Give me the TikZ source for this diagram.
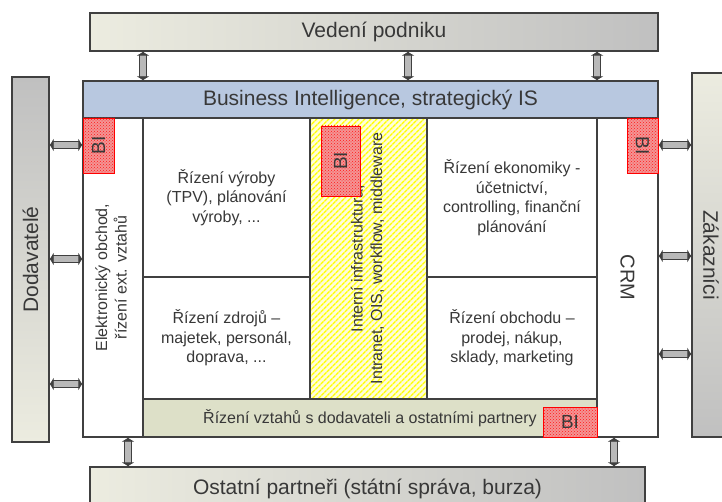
\documentclass[tikz,border=0pt]{standalone}
\usepackage{fontspec}
\setmainfont{Liberation Sans}
\usepackage{graphicx}
\usetikzlibrary{arrows.meta, patterns, patterns.meta}
\definecolor{boxline}{HTML}{404040}
\definecolor{frameblue}{HTML}{B8C8E0}
\definecolor{olivebar}{HTML}{DDE0C8}
\definecolor{paleside}{HTML}{ECECE0}
\definecolor{grayside}{HTML}{C0C0C0}
\definecolor{bired}{HTML}{F07070}
\definecolor{txtgray}{HTML}{383838}
\newcommand{\vlines}[2]{\rotatebox{#1}{\begin{tabular}{@{}c@{}}#2\end{tabular}}}
\begin{document}
\begin{tikzpicture}[x=1pt, y=-1pt,
  box/.style={draw=boxline, line width=1.3pt, inner sep=0pt, text=txtgray},
  side/.style={box, font=\fontsize{21}{25}\selectfont},
  cell/.style={box, fill=white, align=center, font=\fontsize{16}{19.5}\selectfont},
  bibox/.style={draw=red, line width=0.8pt, inner sep=0pt, preaction={fill=bired!75},
                pattern=crosshatch dots, pattern color=red!90, text=txtgray,
                font=\fontsize{19}{22}\selectfont},
  link/.style={{Latex[length=4pt,width=14pt]}-{Latex[length=4pt,width=14pt]},
               draw=boxline, line width=1.2pt, double=gray!55, double distance=6pt}
]
  \clip (0,0) rectangle (722,502);
  % Surrounding blocks
  \node[side, left color=paleside, right color=grayside, minimum width=568, minimum height=38] (ved) at (374,32) {Vedení podniku};
  \node[side, top color=grayside, bottom color=paleside, minimum width=37, minimum height=365] (dod) at (30.5,259.5) {\rotatebox{90}{Dodavatelé}};
  \node[side, top color=paleside, bottom color=grayside, minimum width=38, minimum height=364] (zak) at (711,255) {\rotatebox{-90}{Zákazníci}};
  \node[side, left color=paleside, right color=grayside, minimum width=555, minimum height=43] (ost) at (367.5,488.5) {Ostatní partneři (státní správa, burza)};

  % Main frame
  \node[side, fill=frameblue, minimum width=575, minimum height=37] (bi) at (370.5,99.5) {Business Intelligence, strategický IS};
  \node[cell, minimum width=60, minimum height=319] (ecom) at (113,277.5) {\vlines{90}{Elektronický obchod,\\řízení ext. vztahů}};
  \node[cell, font=\fontsize{20}{24}\selectfont, minimum width=61, minimum height=319] (crm) at (627.5,277.5) {\rotatebox{-90}{CRM}};

  % Inner cells
  \node[cell, minimum width=167, minimum height=159] (vyr) at (226.5,197.5) {Řízení výroby\\(TPV), plánování\\výroby, ...};
  \node[cell, minimum width=167, minimum height=122] (zdr) at (226.5,338) {Řízení zdrojů –\\majetek, personál,\\doprava, ...};
  \node[cell, minimum width=170, minimum height=159] (eko) at (512,197.5) {Řízení ekonomiky -\\účetnictví,\\controlling, finanční\\plánování};
  \node[cell, minimum width=170, minimum height=122] (obch) at (512,338) {Řízení obchodu –\\prodej, nákup,\\sklady, marketing};
  \node[cell, preaction={fill=yellow!15}, pattern={Lines[angle=45,distance=4pt,line width=1.6pt]}, pattern color=yellow,
        minimum width=117, minimum height=281] (infra) at (368.5,258.5) {\vlines{90}{Interní infrastruktura,\\Intranet, OIS, workflow, middleware}};
  \node[cell, fill=olivebar, minimum width=454, minimum height=38] (vzt) at (370,418) {Řízení vztahů s dodavateli a ostatními partnery};

  % BI parts
  \node[bibox, minimum width=31, minimum height=55] (bil) at (98.5,145.5) {\rotatebox{90}{BI}};
  \node[bibox, minimum width=31, minimum height=55] (bir) at (642.5,145.5) {\rotatebox{-90}{BI}};
  \node[bibox, minimum width=39, minimum height=70] (bim) at (340.5,161) {\rotatebox{90}{BI}};
  \node[bibox, minimum width=54, minimum height=30] (bib) at (570,422) {BI};

  % Links to management
  \draw[link] (ved.south -| 143,0) -- (bi.north -| 143,0);
  \draw[link] (ved.south -| 408,0) -- (bi.north -| 408,0);
  \draw[link] (ved.south -| 597,0) -- (bi.north -| 597,0);

  % Links to suppliers and customers
  \draw[link] (dod.east |- 0,145) -- (ecom.west |- 0,145);
  \draw[link] (dod.east |- 0,259) -- (ecom.west |- 0,259);
  \draw[link] (dod.east |- 0,384) -- (ecom.west |- 0,384);
  \draw[link] (crm.east |- 0,145) -- (zak.west |- 0,145);
  \draw[link] (crm.east |- 0,256) -- (zak.west |- 0,256);
  \draw[link] (crm.east |- 0,354) -- (zak.west |- 0,354);

  % Links to other partners
  \draw[link] (ecom.south -| 128,0) -- (ost.north -| 128,0);
  \draw[link] (crm.south -| 614,0) -- (ost.north -| 614,0);
\end{tikzpicture}
\end{document}
